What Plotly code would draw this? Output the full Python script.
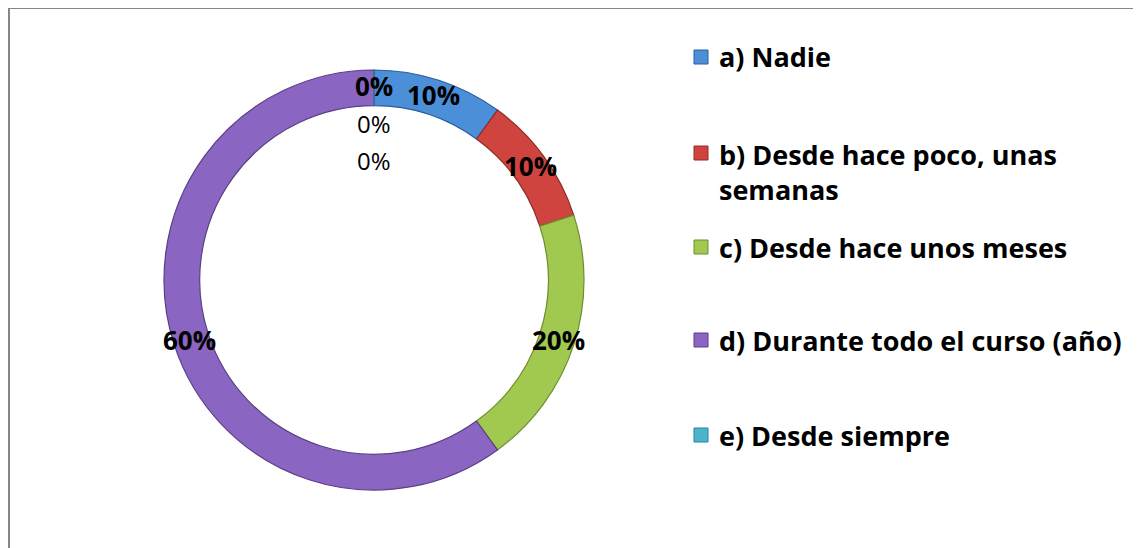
import math
import plotly.graph_objects as go

# data
categories = ['a) Nadie', 'b) Desde hace poco, unas<br>semanas', 'c) Desde hace unos meses',
              'd) Durante todo el curso (año)', 'e) Desde siempre']
values = [10, 10, 20, 60, 0]
extra_values = [0, 0]   # unlabeled zero points that still show a data label
colors = ['#4a8fd8', '#d0443f', '#a2c94f', '#8a66c2', '#4bb4cf']
edge_colors = ['#2d5f9e', '#8f2b28', '#6e8c30', '#5b3f86', '#2b8099']

W, H = 1141, 548
OFF = 8                      # page body margin
cx, cy, R = 374, 280, 210    # ring centre / outer radius in screen px


def px(x):
    return (x - OFF) / W


def py(y):
    return 1 - (y - OFF) / H


fig = go.Figure(go.Pie(
    labels=[c.replace('<br>', ' ') for c in categories],
    values=values,
    marker=dict(colors=colors, line=dict(color=edge_colors, width=1.2)),
    hole=0.83, sort=False, direction='clockwise', rotation=0,
    textinfo='none', showlegend=False, hoverinfo='label+percent',
    domain=dict(x=[px(cx - R), px(cx + R)], y=[py(cy + R), py(cy - R)]),
))

total = sum(values)
font_b = dict(family='Open Sans', size=27, color='black')

# percentage labels on the ring
cum = 0
for v in values:
    mid = (cum + v / 2) / total * 2 * math.pi
    cum += v
    r = 194
    fig.add_annotation(x=px(cx + r * math.sin(mid)), y=py(cy - r * math.cos(mid)),
                       xref='paper', yref='paper', showarrow=False,
                       xanchor='center', yanchor='middle',
                       text='<b>%d%%</b>' % round(100 * v / total),
                       font=dict(family='Open Sans', size=26, color='black'))

# extra zero labels stacked under the top one
for i, v in enumerate(extra_values):
    r = 192 - 36 * (i + 1)
    fig.add_annotation(x=px(cx), y=py(cy - r), xref='paper', yref='paper', showarrow=False,
                       xanchor='center', yanchor='middle',
                       text='%d%%' % round(100 * v / total),
                       font=dict(family='Open Sans', size=24, color='black'))

# legend drawn by hand to keep the wide spacing
leg_y = [57, 153, 247, 340, 435]
for cat, col, edge, y in zip(categories, colors, edge_colors, leg_y):
    two = '<br>' in cat
    fig.add_shape(type='rect', xref='paper', yref='paper',
                  x0=px(694), x1=px(708), y0=py(y + 7), y1=py(y - 7),
                  fillcolor=col, line=dict(color=edge, width=1))
    fig.add_annotation(x=px(717), y=py(y + 19 if two else y), xref='paper', yref='paper',
                       showarrow=False, xanchor='left', yanchor='middle',
                       align='left', text='<b>%s</b>' % cat,
                       font=font_b)

# chart border
fig.add_shape(type='rect', xref='paper', yref='paper',
              x0=px(9), x1=px(1139), y0=-0.05, y1=py(8),
              line=dict(color='#878787', width=2), fillcolor='rgba(0,0,0,0)')

fig.update_layout(width=W, height=H, margin=dict(l=0, r=0, t=0, b=0),
                  paper_bgcolor='white', plot_bgcolor='white')

fig.write_html('out.html')
